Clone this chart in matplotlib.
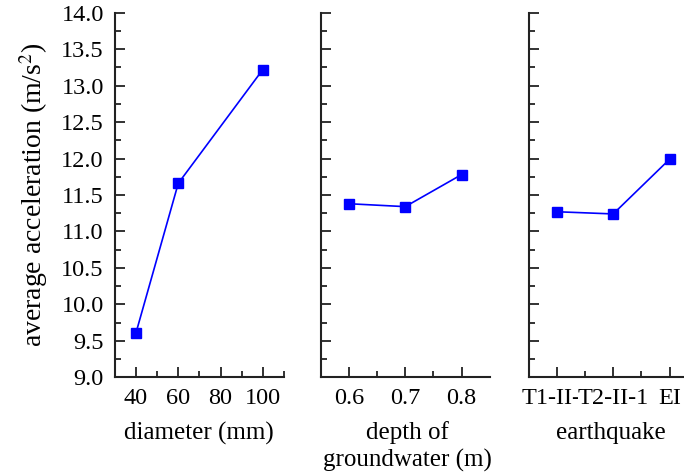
import numpy as np
import matplotlib.pyplot as plt
from matplotlib.ticker import MultipleLocator

plt.rcParams['font.family'] = ['Liberation Serif', 'DejaVu Serif']
plt.rcParams['mathtext.fontset'] = 'stix'

# factor levels and mean responses
diameter = [40, 60, 100]
acc_diameter = [9.61, 11.66, 13.22]

depth = [0.6, 0.7, 0.8]
acc_depth = [11.38, 11.34, 11.78]

quake_labels = ["T1-II-1", "T2-II-1", "EI"]
acc_quake = [11.27, 11.24, 11.99]

fig = plt.figure(figsize=(6.84, 4.75), dpi=100)

bottom, height = 0.206, 0.767
width = 0.247
lefts = [0.168, 0.469, 0.773]
axes = [fig.add_axes([l, bottom, width, height]) for l in lefts]

line_kw = dict(color='#0000ff', lw=1.2, marker='s', ms=6.5,
               mfc='#0000ff', mec='#0000ff')

axes[0].plot(diameter, acc_diameter, **line_kw)
axes[0].set_xlim(30, 110)
axes[0].xaxis.set_major_locator(MultipleLocator(20))
axes[0].xaxis.set_minor_locator(MultipleLocator(10))

axes[1].plot(depth, acc_depth, **line_kw)
axes[1].set_xlim(0.55, 0.85)
axes[1].set_xticks(depth)
axes[1].set_xticks([0.65, 0.75], minor=True)

xq = np.arange(1, len(quake_labels) + 1)
axes[2].plot(xq, acc_quake, **line_kw)
axes[2].set_xlim(0.5, 3.5)
axes[2].set_xticks(xq)
axes[2].set_xticklabels(quake_labels)
axes[2].set_xticks([1.5, 2.5], minor=True)
# later labels sit on top of the earlier ones where they collide
for i, t in enumerate(axes[2].get_xticklabels()):
    t.set_bbox(dict(facecolor='white', edgecolor='none', pad=0))
    t.set_zorder(10 + i)

for i, ax in enumerate(axes):
    ax.set_ylim(9.0, 14.0)
    ax.yaxis.set_major_locator(MultipleLocator(0.5))
    ax.yaxis.set_minor_locator(MultipleLocator(0.25))
    ax.spines['top'].set_visible(False)
    ax.spines['right'].set_visible(False)
    for s in ('left', 'bottom'):
        ax.spines[s].set_linewidth(1.5)
        ax.spines[s].set_color('#222222')
    ax.tick_params(which='both', direction='in', width=1.3, color='#222222',
                   labelsize=17.5, pad=8)
    ax.tick_params(which='major', length=7)
    ax.tick_params(which='minor', length=4)
    if i == 0:
        ax.yaxis.set_major_formatter(plt.FormatStrFormatter('%.1f'))
    else:
        ax.tick_params(axis='y', labelleft=False)

axes[0].set_ylabel('average acceleration (m/s$^2$)', fontsize=20, labelpad=8)

fig.text(0.291, 0.088, 'diameter (mm)', ha='center', va='center', fontsize=18)
fig.text(0.595, 0.060, 'depth of\ngroundwater (m)', ha='center', va='center',
         fontsize=18, linespacing=1.25)
fig.text(0.893, 0.088, 'earthquake', ha='center', va='center', fontsize=18)

fig.savefig('out.png', dpi=100)
